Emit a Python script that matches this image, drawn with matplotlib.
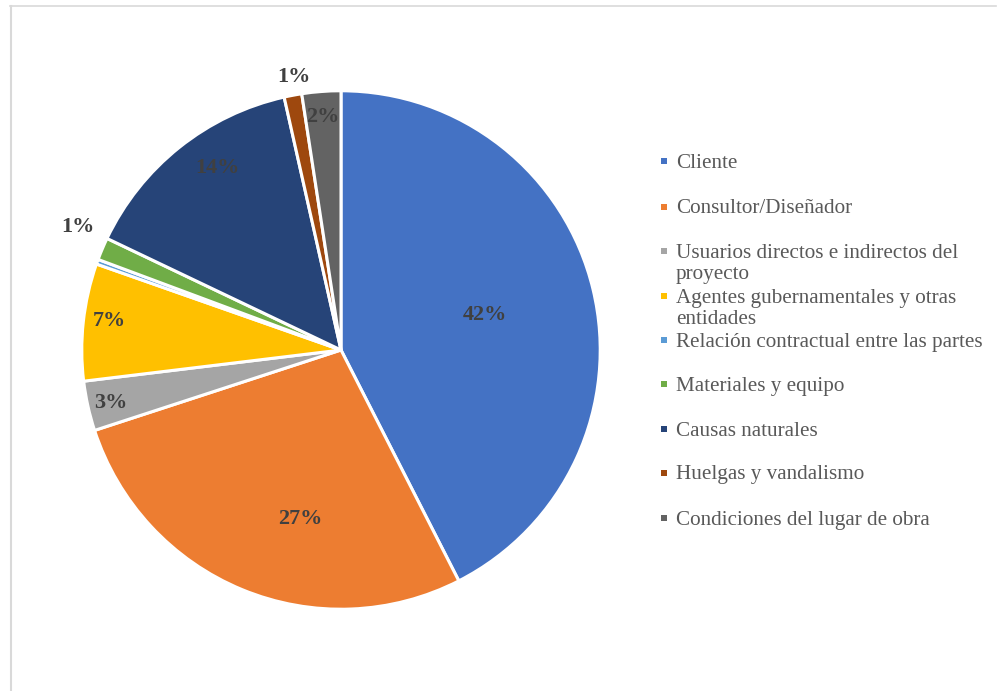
import matplotlib.pyplot as plt
from matplotlib.lines import Line2D
from matplotlib.patches import Rectangle
import numpy as np

categories = [
    "Cliente",
    "Consultor/Diseñador",
    "Usuarios directos e indirectos del\nproyecto",
    "Agentes gubernamentales y otras\nentidades",
    "Relación contractual entre las partes",
    "Materiales y equipo",
    "Causas naturales",
    "Huelgas y vandalismo",
    "Condiciones del lugar de obra",
]
shares = [42.49, 27.49, 3.1, 7.3, 0.3, 1.4, 14.4, 1.1, 2.42]
colors = ["#4472c4", "#ed7d31", "#a5a5a5", "#ffc000", "#5b9bd5",
          "#70ad47", "#264478", "#9e480e", "#636363"]
# label placement: radius as fraction of pie radius (None = no label),
# plus an angular nudge in degrees away from the wedge's mid-angle
label_r = [0.57, 0.67, 0.91, 0.90, None, 1.12, 0.85, 1.07, 0.90]
label_nudge = [0, 9, 0.5, -1, 0, -2, -4.5, -1, 0]

plt.rcParams["font.family"] = ["Liberation Serif", "DejaVu Serif"]

fig = plt.figure(figsize=(9.98, 6.91), dpi=100)
ax = fig.add_axes([341 / 998 - 0.3, 1 - 350 / 691 - 0.3 * 998 / 691, 0.6, 0.6 * 998 / 691])

wedges, _ = ax.pie(shares, colors=colors, startangle=90, counterclock=False,
                   radius=1.0, wedgeprops=dict(edgecolor="white", linewidth=2.2))
ax.set_xlim(-1.155, 1.155)
ax.set_ylim(-1.155, 1.155)
ax.set_aspect("equal")
ax.axis("off")

total = sum(shares)
for w, v, r, dn in zip(wedges, shares, label_r, label_nudge):
    if r is None:
        continue
    mid = np.deg2rad((w.theta1 + w.theta2) / 2 + dn)
    ax.text(r * np.cos(mid), r * np.sin(mid), f"{100 * v / total:.0f}%",
            ha="center", va="center", fontsize=16, fontweight="bold", color="#404040")

# legend entries
leg_x = 666 / 998
leg_rows = [161, 207, 251, 296, 340, 384, 429, 473, 518]
for name, c, y in zip(categories, colors, leg_rows):
    fig.add_artist(Rectangle((leg_x - 5 / 998, 1 - (y + 3) / 691), 6 / 998, 6 / 691,
                             transform=fig.transFigure, color=c, lw=0))
    lines = name.split("\n")
    fig.text(leg_x + 10 / 998, 1 - (y + 2) / 691, lines[0], ha="left", va="center",
             fontsize=15.2, color="#595959")
    if len(lines) > 1:
        fig.text(leg_x + 10 / 998, 1 - (y + 24) / 691, lines[1], ha="left", va="center",
                 fontsize=15.2, color="#595959")

# chart frame
fig.add_artist(Line2D([10 / 998, 996 / 998], [1 - 5.5 / 691, 1 - 5.5 / 691],
                      transform=fig.transFigure, color="#d9d9d9", lw=1.2))
fig.add_artist(Line2D([11 / 998, 11 / 998], [0, 1 - 5.5 / 691],
                      transform=fig.transFigure, color="#d9d9d9", lw=1.5))

fig.savefig("out.png", dpi=100)
